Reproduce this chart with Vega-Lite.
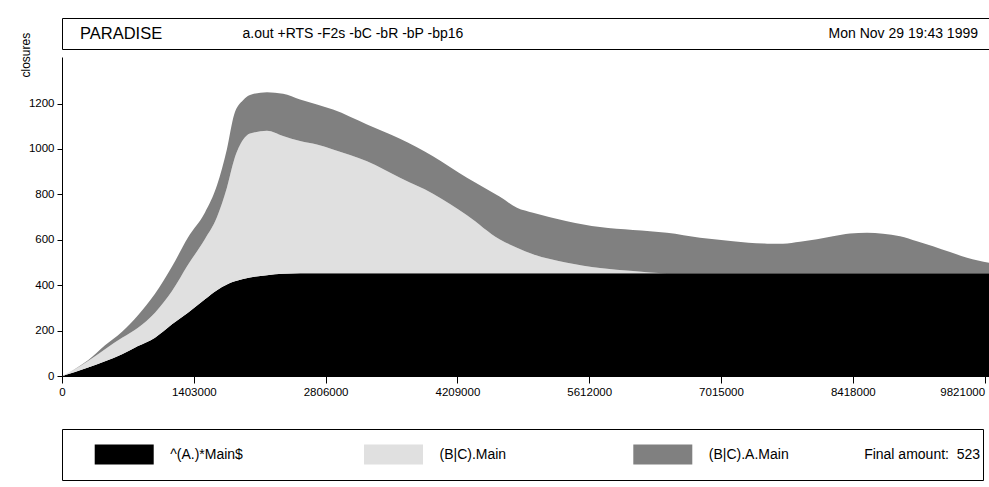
{
  "$schema": "https://vega.github.io/schema/vega-lite/v6.json",
  "padding": {"left": 19, "top": 17, "right": 0, "bottom": 0},
  "background": "white",
  "config": {
    "font": "Liberation Sans",
    "view": {"stroke": null},
    "axis": {"domainColor": "#000", "tickColor": "#000", "labelColor": "#000", "titleColor": "#000", "grid": false, "labelFont": "Liberation Sans", "titleFont": "Liberation Sans"},
    "text": {"font": "Liberation Sans", "color": "#000"}
  },
  "spacing": 8,
  "bounds": "flush",
  "vconcat": [
    {
      "width": 931,
      "height": 31,
      "view": {"stroke": "#000", "strokeWidth": 1},
      "data": {"values": [
        {"slot": "name", "text": "PARADISE"},
        {"slot": "cmd", "text": "a.out +RTS -F2s -bC -bR -bP -bp16"},
        {"slot": "date", "text": "Mon Nov 29 19:43 1999"}
      ]},
      "encoding": {
        "x": {"field": "slot", "type": "nominal", "scale": {"type": "point", "domain": ["name", "cmd", "date"], "padding": 0}, "axis": null},
        "text": {"field": "text"}
      },
      "layer": [
        {"transform": [{"filter": "datum.slot === 'name'"}], "mark": {"type": "text", "align": "left", "dx": 18, "fontSize": 16.5, "baseline": "middle"}},
        {"transform": [{"filter": "datum.slot === 'cmd'"}], "mark": {"type": "text", "align": "left", "dx": -285, "fontSize": 14, "baseline": "middle"}},
        {"transform": [{"filter": "datum.slot === 'date'"}], "mark": {"type": "text", "align": "right", "dx": -15, "fontSize": 14, "baseline": "middle"}}
      ]
    },
    {
      "spacing": 53,
      "bounds": "flush",
      "vconcat": [
        {
          "width": 927,
          "height": 319,
          "data": {"values": [
            {"t": 0, "A": 0, "BC": 0, "BCA": 0},
            {"t": 138000, "A": 18, "BC": 12, "BCA": 1},
            {"t": 277000, "A": 37, "BC": 29, "BCA": 3},
            {"t": 458000, "A": 65, "BC": 53, "BCA": 17},
            {"t": 639000, "A": 96, "BC": 72, "BCA": 27},
            {"t": 809000, "A": 132, "BC": 81, "BCA": 55},
            {"t": 990000, "A": 169, "BC": 110, "BCA": 83},
            {"t": 1171000, "A": 228, "BC": 146, "BCA": 108},
            {"t": 1341000, "A": 279, "BC": 211, "BCA": 120},
            {"t": 1522000, "A": 338, "BC": 265, "BCA": 117},
            {"t": 1650000, "A": 378, "BC": 322, "BCA": 140},
            {"t": 1756000, "A": 403, "BC": 427, "BCA": 170},
            {"t": 1831000, "A": 416, "BC": 534, "BCA": 200},
            {"t": 1927000, "A": 427, "BC": 613, "BCA": 175},
            {"t": 2001000, "A": 434, "BC": 634, "BCA": 170},
            {"t": 2182000, "A": 444, "BC": 636, "BCA": 170},
            {"t": 2353000, "A": 450, "BC": 607, "BCA": 186},
            {"t": 2534000, "A": 453, "BC": 582, "BCA": 183},
            {"t": 2714000, "A": 453, "BC": 567, "BCA": 176},
            {"t": 2885000, "A": 453, "BC": 545, "BCA": 176},
            {"t": 3247000, "A": 453, "BC": 493, "BCA": 162},
            {"t": 3598000, "A": 453, "BC": 420, "BCA": 172},
            {"t": 3949000, "A": 453, "BC": 350, "BCA": 165},
            {"t": 4311000, "A": 453, "BC": 255, "BCA": 165},
            {"t": 4662000, "A": 453, "BC": 148, "BCA": 188},
            {"t": 4843000, "A": 453, "BC": 112, "BCA": 176},
            {"t": 5014000, "A": 453, "BC": 83, "BCA": 183},
            {"t": 5376000, "A": 453, "BC": 46, "BCA": 183},
            {"t": 5727000, "A": 453, "BC": 23, "BCA": 180},
            {"t": 6078000, "A": 453, "BC": 9, "BCA": 181},
            {"t": 6259000, "A": 453, "BC": 3, "BCA": 182},
            {"t": 6440000, "A": 453, "BC": 0, "BCA": 178},
            {"t": 6792000, "A": 453, "BC": 0, "BCA": 156},
            {"t": 7143000, "A": 453, "BC": 0, "BCA": 141},
            {"t": 7505000, "A": 453, "BC": 0, "BCA": 130},
            {"t": 7675000, "A": 453, "BC": 0, "BCA": 130},
            {"t": 7856000, "A": 453, "BC": 0, "BCA": 138},
            {"t": 8037000, "A": 453, "BC": 0, "BCA": 149},
            {"t": 8207000, "A": 453, "BC": 0, "BCA": 163},
            {"t": 8388000, "A": 453, "BC": 0, "BCA": 175},
            {"t": 8569000, "A": 453, "BC": 0, "BCA": 178},
            {"t": 8740000, "A": 453, "BC": 0, "BCA": 174},
            {"t": 8921000, "A": 453, "BC": 0, "BCA": 163},
            {"t": 9101000, "A": 453, "BC": 0, "BCA": 141},
            {"t": 9272000, "A": 453, "BC": 0, "BCA": 119},
            {"t": 9453000, "A": 453, "BC": 0, "BCA": 93},
            {"t": 9634000, "A": 453, "BC": 0, "BCA": 68},
            {"t": 9868000, "A": 453, "BC": 0, "BCA": 46}
          ]},
          "transform": [{"fold": ["A", "BC", "BCA"], "as": ["s", "v"]}],
          "mark": {"type": "area", "interpolate": "monotone"},
          "encoding": {
            "x": {"field": "t", "type": "quantitative", "scale": {"domain": [0, 9868000], "nice": false},
                  "axis": {"values": [0, 1403000, 2806000, 4209000, 5612000, 7015000, 8418000, 9821000], "format": "d", "labelFlush": false, "labelAlign": {"expr": "datum.value > 9000000 ? 'right' : 'center'"}, "title": null, "tickSize": 7, "labelPadding": 3, "labelFontSize": 11.5}},
            "y": {"field": "v", "type": "quantitative", "stack": "zero", "scale": {"domain": [0, 1405], "nice": false},
                  "axis": {"values": [0, 200, 400, 600, 800, 1000, 1200], "format": "d", "title": "closures", "titleAngle": -90, "titleAlign": "left", "titleBaseline": "middle", "titleX": -37, "titleY": 20, "titleFontSize": 12, "titleFontWeight": "normal", "tickSize": 5, "labelPadding": 3, "labelFontSize": 11.5}},
            "color": {"field": "s", "type": "nominal", "scale": {"domain": ["A", "BC", "BCA"], "range": ["#000000", "#e0e0e0", "#808080"]}, "legend": null},
            "order": {"field": "s", "sort": "ascending"}
          }
        },
        {
          "width": 921,
          "height": 51,
          "view": {"stroke": "#000", "strokeWidth": 1},
          "data": {"values": [
            {"s": "A", "label": "^(A.)*Main$"},
            {"s": "BC", "label": "(B|C).Main"},
            {"s": "BCA", "label": "(B|C).A.Main"},
            {"s": "final", "label": "Final amount:\u00a0 523"}
          ]},
          "encoding": {
            "x": {"field": "s", "type": "nominal", "scale": {"type": "point", "domain": ["A", "BC", "BCA", "final"], "padding": 0.21, "align": 0.55}, "axis": null}
          },
          "layer": [
            {"transform": [{"filter": "datum.s !== 'final'"}],
             "mark": {"type": "point", "shape": "M-1,-0.34H1V0.34H-1Z", "size": 3481, "filled": true, "opacity": 1, "strokeWidth": 0},
             "encoding": {"color": {"field": "s", "type": "nominal", "legend": null}}},
            {"transform": [{"filter": "datum.s !== 'final'"}],
             "mark": {"type": "text", "align": "left", "dx": 46, "fontSize": 14, "baseline": "middle"},
             "encoding": {"text": {"field": "label"}}},
            {"transform": [{"filter": "datum.s === 'final'"}],
             "mark": {"type": "text", "align": "right", "dx": 48, "fontSize": 14, "baseline": "middle"},
             "encoding": {"text": {"field": "label"}}}
          ]
        }
      ]
    }
  ]
}
